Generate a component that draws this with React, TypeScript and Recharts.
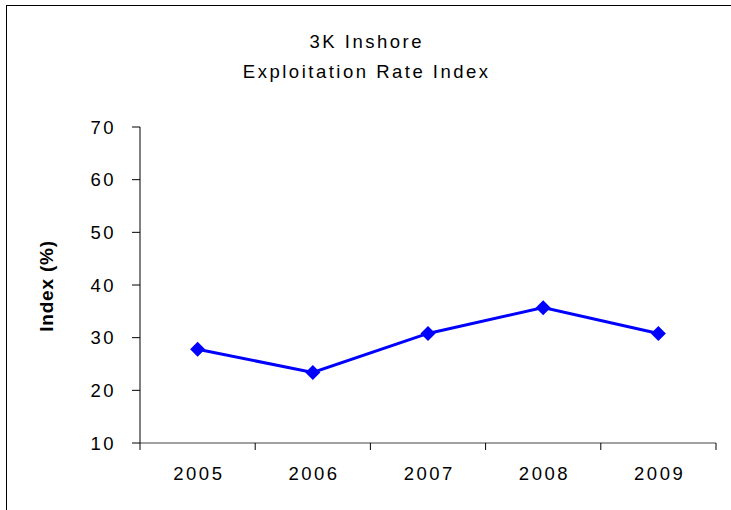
import React from "react";
import { LineChart, Line, XAxis, YAxis } from "recharts";

const years = ["2005", "2006", "2007", "2008", "2009"];
const indexValues = [27.8, 23.4, 30.8, 35.7, 30.8];
const yTicks = [10, 20, 30, 40, 50, 60, 70];

// category i sits at i + 0.5 so that tick marks fall on the category boundaries
const data = years.map((year, i) => ({ pos: i + 0.5, year, value: indexValues[i] }));
const xTicks = [0, 0.5, 1, 1.5, 2, 2.5, 3, 3.5, 4, 4.5, 5];

const FONT = "'Liberation Sans', Arial, sans-serif";
const FS = 18.5;
const LS = 2.5;

const Diamond = (props: any) => {
  const { cx, cy } = props;
  if (cx == null || cy == null) return null;
  const r = 7.5;
  return (
    <path
      d={`M${cx},${cy - r} L${cx + r},${cy} L${cx},${cy + r} L${cx - r},${cy} Z`}
      fill="#0000FF"
      stroke="none"
    />
  );
};

const XTick = (props: any) => {
  const { x, y, payload } = props;
  const v = payload.value as number;
  if (Number.isInteger(v)) {
    return <line x1={x} y1={y} x2={x} y2={y + 7} stroke="#000" strokeWidth={1} />;
  }
  const label = years[Math.floor(v)];
  return (
    <text
      x={x + LS / 2}
      y={y + 30}
      textAnchor="middle"
      dominantBaseline="central"
      fill="#000"
      style={{ fontFamily: FONT, fontSize: FS, letterSpacing: LS }}
    >
      {label}
    </text>
  );
};

export default function App() {
  return (
    <div style={{ position: "absolute", left: 0, top: 0, width: 731, height: 510, background: "#fff", overflow: "hidden" }}>
      <div
        style={{
          position: "absolute",
          left: 6,
          top: 5,
          width: 740,
          height: 520,
          borderLeft: "1px solid #000",
          borderTop: "1px solid #000",
        }}
      />
      <div
        style={{
          position: "absolute",
          left: LS / 2,
          top: 27,
          width: 731,
          textAlign: "center",
          fontFamily: FONT,
          fontSize: FS,
          letterSpacing: LS,
          lineHeight: "30px",
          color: "#000",
        }}
      >
        <div>3K Inshore</div>
        <div>Exploitation Rate Index</div>
      </div>
      <div
        style={{
          position: "absolute",
          left: 47,
          top: 286,
          transform: "translate(-50%, -50%) rotate(-90deg)",
          fontFamily: FONT,
          fontSize: 19,
          fontWeight: "bold",
          letterSpacing: 0.8,
          whiteSpace: "nowrap",
          color: "#000",
        }}
      >
        Index (%)
      </div>
      <div style={{ position: "absolute", left: 0, top: 0 }}>
        <LineChart width={731} height={510} data={data} margin={{ top: 127, right: 15, bottom: 26, left: 0 }}>
          <XAxis
            dataKey="pos"
            type="number"
            domain={[0, 5]}
            ticks={xTicks}
            tick={<XTick />}
            tickLine={false}
            tickSize={0}
            tickMargin={0}
            height={41}
            axisLine={{ stroke: "#808080", strokeWidth: 1.5 }}
            interval={0}
          />
          <YAxis
            type="number"
            domain={[10, 70]}
            ticks={yTicks}
            width={140}
            tickSize={8}
            tickMargin={16}
            axisLine={{ stroke: "#000" }}
            tickLine={{ stroke: "#000" }}
            tick={{ fill: "#000", fontFamily: FONT, fontSize: FS, letterSpacing: LS }}
            interval={0}
          />
          <Line
            dataKey="value"
            stroke="#0000FF"
            strokeWidth={3}
            dot={<Diamond />}
            activeDot={false}
            isAnimationActive={false}
          />
        </LineChart>
      </div>
    </div>
  );
}
